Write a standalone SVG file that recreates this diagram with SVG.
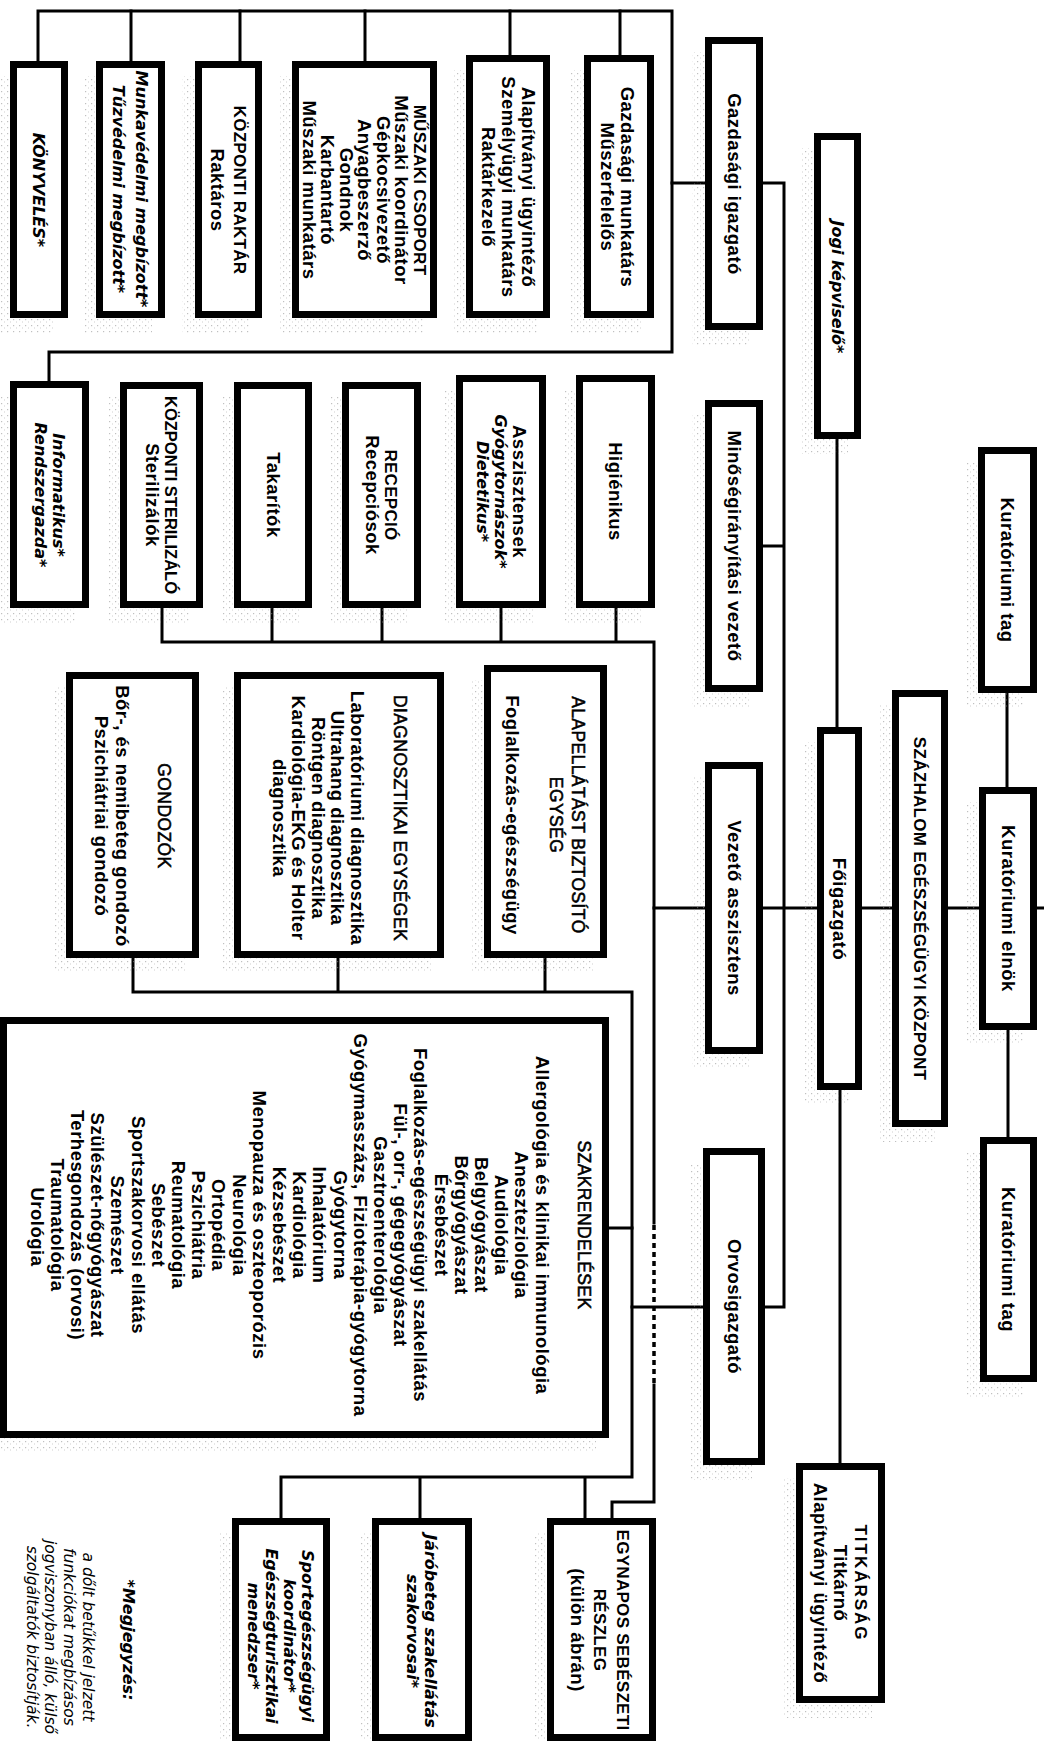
<svg xmlns="http://www.w3.org/2000/svg" width="1044" height="1741" viewBox="0 0 1044 1741">
<defs>
<pattern id="dots" width="6" height="6" patternUnits="userSpaceOnUse">
<rect x="1" y="1" width="1.2" height="1.2" fill="#8c8c8c"/>
<rect x="4" y="3.5" width="1" height="1" fill="#a8a8a8"/>
</pattern>
<style>
.sh{fill:url(#dots);opacity:.55}
.box{fill:#fff;stroke:#000;stroke-width:7}
text{fill:#000;text-anchor:middle}
.b{font-family:"Liberation Sans",Arial,sans-serif;font-weight:bold;font-size:18.5px;letter-spacing:.5px}
.c{font-family:"Liberation Sans",Arial,sans-serif;font-weight:bold;font-size:17px;letter-spacing:.3px}
.r{font-family:"Liberation Sans",Arial,sans-serif;font-weight:normal;font-size:17.5px;letter-spacing:.4px;stroke:#000;stroke-width:.55px}
.i{font-family:"DejaVu Sans",sans-serif;font-style:italic;font-weight:bold;font-size:16px}
.n{font-family:"DejaVu Sans",sans-serif;font-style:italic;font-weight:normal;font-size:15.5px}
.ln{fill:none;stroke:#000;stroke-width:3;stroke-linecap:square}
.dash{fill:none;stroke:#000;stroke-width:3.5;stroke-dasharray:5 4}
</style>
</defs>
<rect width="1044" height="1741" fill="#fff"/>

<g id="connectors">
<path class="ln" d="M38,62 V11 H672 V352 H49 V382"/>
<path class="ln" d="M131,11 V62 M240,11 V62 M365,11 V62 M510,11 V56 M620,11 V56"/>
<path class="ln" d="M672,183 H706 M763,183 H784 V1307 H765 M763,546 H784"/>
<path class="ln" d="M162,608 V642 H654 V1223 M272,608 V642 M382,608 V642 M501,608 V642 M616,608 V642"/>
<path class="dash" d="M654,1225 V1383"/>
<path class="ln" d="M654,1385 V1502 H612 V1519"/>
<path class="ln" d="M654,908 H1044"/>
<path class="ln" d="M133,958 V992 H632 V1477 H281 V1519 M338,958 V992 M545,958 V992 M420,1477 V1519 M585,1477 V1519"/>
<path class="ln" d="M609,1228 H632 M632,1307 H704"/>
<path class="ln" d="M837,439 V728 M840,1090 V1464 M1007,693 V788 M1008,1030 V1138"/>
</g>

<g id="n-konyveles">
<rect class="sh" x="-3" y="76" width="58" height="257"/>
<rect class="box" x="13.5" y="64.5" width="51" height="250"/>
<text transform="rotate(90)"><tspan class="i" x="190" y="-33.2">KÖNYVELÉS*</tspan></text>
</g>
<g id="n-munkavedelmi">
<rect class="sh" x="83" y="76" width="69" height="257"/>
<rect class="box" x="99.5" y="64.5" width="62" height="250"/>
<text transform="rotate(90)"><tspan class="i" x="189" y="-136.2">Munkavédelmi megbízott*</tspan><tspan class="i" x="189" y="-113.2">Tűzvédelmi megbízott*</tspan></text>
</g>
<g id="n-kozponti-raktar">
<rect class="sh" x="182" y="76" width="67" height="257"/>
<rect class="box" x="198.5" y="64.5" width="60" height="250"/>
<text transform="rotate(90)"><tspan class="c" x="190" y="-233.9">KÖZPONTI RAKTÁR</tspan><tspan class="b" x="190" y="-210.5">Raktáros</tspan></text>
</g>
<g id="n-muszaki">
<rect class="sh" x="279" y="76" width="145" height="257"/>
<rect class="box" x="295.5" y="64.5" width="138" height="250"/>
<text transform="rotate(90)"><tspan class="c" x="190" y="-413.9">MŰSZAKI CSOPORT</tspan><tspan class="b" x="190" y="-395">Műszaki koordinátor</tspan><tspan class="b" x="190" y="-376.5">Gépkocsivezető</tspan><tspan class="b" x="190" y="-358">Anyagbeszerző</tspan><tspan class="b" x="190" y="-339.5">Gondnok</tspan><tspan class="b" x="190" y="-321">Karbantartó</tspan><tspan class="b" x="190" y="-302.5">Műszaki munkatárs</tspan></text>
</g>
<g id="n-alapitvanyi">
<rect class="sh" x="453" y="70" width="84" height="263"/>
<rect class="box" x="469.5" y="58.5" width="77" height="256"/>
<text transform="rotate(90)"><tspan class="b" x="187" y="-521.5">Alapítványi ügyintéző</tspan><tspan class="b" x="187" y="-501.5">Személyügyi munkatárs</tspan><tspan class="b" x="187" y="-481.5">Raktárkezelő</tspan></text>
</g>
<g id="n-gazdasagi-munkatars">
<rect class="sh" x="571" y="70" width="70" height="263"/>
<rect class="box" x="587.5" y="58.5" width="63" height="256"/>
<text transform="rotate(90)"><tspan class="b" x="187" y="-620.5">Gazdasági munkatárs</tspan><tspan class="b" x="187" y="-600.5">Műszerfelelős</tspan></text>
</g>
<g id="n-gazdasagi-igazgato">
<rect class="sh" x="692" y="52" width="58" height="293"/>
<rect class="box" x="708.5" y="40.5" width="51" height="286"/>
<text transform="rotate(90)"><tspan class="b" x="184" y="-727.5">Gazdasági igazgató</tspan></text>
</g>
<g id="n-jogi">
<rect class="sh" x="801" y="148" width="47" height="306"/>
<rect class="box" x="817.5" y="136.5" width="40" height="299"/>
<text transform="rotate(90)"><tspan class="i" x="287" y="-831.7">Jogi képviselő*</tspan></text>
</g>
<g id="n-minoseg">
<rect class="sh" x="692" y="415" width="58" height="292"/>
<rect class="box" x="708.5" y="403.5" width="51" height="285"/>
<text transform="rotate(90)"><tspan class="b" x="546" y="-727.5">Minőségirányítási vezető</tspan></text>
</g>
<g id="n-kuratoriumi-tag-1">
<rect class="sh" x="965" y="462" width="59" height="246"/>
<rect class="box" x="981.5" y="450.5" width="52" height="239"/>
<text transform="rotate(90)"><tspan class="b" x="570" y="-1001">Kuratóriumi tag</tspan></text>
</g>
<g id="n-szazhalom">
<rect class="sh" x="879" y="705" width="56" height="437"/>
<rect class="box" x="895.5" y="693.5" width="49" height="430"/>
<text transform="rotate(90)"><tspan class="c" x="908.5" y="-914">SZÁZHALOM EGÉSZSÉGÜGYI KÖZPONT</tspan></text>
</g>
<g id="n-kuratoriumi-elnok">
<rect class="sh" x="966" y="802" width="58" height="243"/>
<rect class="box" x="982.5" y="790.5" width="51" height="236"/>
<text transform="rotate(90)"><tspan class="b" x="908.5" y="-1001.5">Kuratóriumi elnök</tspan></text>
</g>
<g id="n-kuratoriumi-tag-2">
<rect class="sh" x="967" y="1152" width="57" height="245"/>
<rect class="box" x="983.5" y="1140.5" width="50" height="238"/>
<text transform="rotate(90)"><tspan class="b" x="1259.5" y="-1002">Kuratóriumi tag</tspan></text>
</g>
<g id="n-foigazgato">
<rect class="sh" x="804" y="742" width="45" height="363"/>
<rect class="box" x="820.5" y="730.5" width="38" height="356"/>
<text transform="rotate(90)"><tspan class="b" x="909" y="-833">Főigazgató</tspan></text>
</g>
<g id="n-vezeto-asszisztens">
<rect class="sh" x="692" y="777" width="58" height="292"/>
<rect class="box" x="708.5" y="765.5" width="51" height="285"/>
<text transform="rotate(90)"><tspan class="b" x="908" y="-727.5">Vezető asszisztens</tspan></text>
</g>
<g id="n-orvosigazgato">
<rect class="sh" x="690" y="1163" width="62" height="317"/>
<rect class="box" x="706.5" y="1151.5" width="55" height="310"/>
<text transform="rotate(90)"><tspan class="b" x="1306.5" y="-727.5">Orvosigazgató</tspan></text>
</g>
<g id="n-titkarsag">
<rect class="sh" x="783" y="1478" width="89" height="240"/>
<rect class="box" x="799.5" y="1466.5" width="82" height="233"/>
<text transform="rotate(90)"><tspan class="c" x="1583" y="-854.9" style="letter-spacing:2px">TITKÁRSÁG</tspan><tspan class="b" x="1583" y="-834">Titkárnő</tspan><tspan class="b" x="1583" y="-813.5">Alapítványi ügyintéző</tspan></text>
</g>
<g id="n-informatikus">
<rect class="sh" x="-3" y="396" width="79" height="227"/>
<rect class="box" x="13.5" y="384.5" width="72" height="220"/>
<text transform="rotate(90)"><tspan class="i" x="495" y="-52.7">Informatikus*</tspan><tspan class="i" x="495" y="-34.7">Rendszergazda*</tspan></text>
</g>
<g id="n-sterilizalo">
<rect class="sh" x="107" y="397" width="83" height="226"/>
<rect class="box" x="123.5" y="385.5" width="76" height="219"/>
<text transform="rotate(90)"><tspan class="c" x="495" y="-164.9" style="font-size:16.5px;letter-spacing:0">KÖZPONTI STERILIZÁLÓ</tspan><tspan class="b" x="495" y="-145.5">Sterilizálók</tspan></text>
</g>
<g id="n-takaritok">
<rect class="sh" x="221" y="397" width="78" height="226"/>
<rect class="box" x="237.5" y="385.5" width="71" height="219"/>
<text transform="rotate(90)"><tspan class="b" x="495" y="-266.5">Takarítók</tspan></text>
</g>
<g id="n-recepcio">
<rect class="sh" x="329" y="397" width="79" height="226"/>
<rect class="box" x="345.5" y="385.5" width="72" height="219"/>
<text transform="rotate(90)"><tspan class="c" x="495" y="-384.9">RECEPCIÓ</tspan><tspan class="b" x="495" y="-365.5">Recepciósok</tspan></text>
</g>
<g id="n-asszisztensek">
<rect class="sh" x="443" y="390" width="90" height="233"/>
<rect class="box" x="459.5" y="378.5" width="83" height="226"/>
<text transform="rotate(90)"><tspan class="b" x="491.5" y="-512.5">Asszisztensek</tspan><tspan class="i" x="491.5" y="-495.2">Gyógytornászok*</tspan><tspan class="i" x="491.5" y="-477.2">Dietetikus*</tspan></text>
</g>
<g id="n-higienikus">
<rect class="sh" x="563" y="390" width="79" height="233"/>
<rect class="box" x="579.5" y="378.5" width="72" height="226"/>
<text transform="rotate(90)"><tspan class="b" x="491.5" y="-609">Higiénikus</tspan></text>
</g>
<g id="n-gondozok">
<rect class="sh" x="53" y="687" width="133" height="286"/>
<rect class="box" x="69.5" y="675.5" width="126" height="279"/>
<text transform="rotate(90)"><tspan class="r" x="816" y="-157.7">GONDOZÓK</tspan><tspan class="b" x="816" y="-115.5">Bőr-, és nemibeteg gondozó</tspan><tspan class="b" x="816" y="-94.5">Pszichiátriai gondozó</tspan></text>
</g>
<g id="n-diagnosztikai">
<rect class="sh" x="221" y="687" width="210" height="286"/>
<rect class="box" x="237.5" y="675.5" width="203" height="279"/>
<text transform="rotate(90)"><tspan class="r" x="818" y="-393.7">DIAGNOSZTIKAI EGYSÉGEK</tspan><tspan class="b" x="818" y="-350.5">Laboratóriumi diagnosztika</tspan><tspan class="b" x="818" y="-331">Ultrahang diagnosztika</tspan><tspan class="b" x="818" y="-311.5">Röntgen diagnosztika</tspan><tspan class="b" x="818" y="-292">Kardiológia-EKG és Holter</tspan><tspan class="b" x="818" y="-272.5">diagnosztika</tspan></text>
</g>
<g id="n-alapellatas">
<rect class="sh" x="471" y="680" width="123" height="293"/>
<rect class="box" x="487.5" y="668.5" width="116" height="286"/>
<text transform="rotate(90)"><tspan class="r" x="815" y="-571.7">ALAPELLÁTÁST BIZTOSÍTÓ</tspan><tspan class="r" x="815" y="-549.7">EGYSÉG</tspan><tspan class="b" x="815" y="-505.5">Foglalkozás-egészségügy</tspan></text>
</g>
<g id="n-szakrendelesek">
<rect class="sh" x="-13" y="1032" width="609" height="421"/>
<rect class="box" x="3.5" y="1020.5" width="602" height="414"/>
<text transform="rotate(90)">
<tspan class="r" x="1227" y="-577.7">SZAKRENDELÉSEK</tspan>
<tspan class="b" x="1227" y="-535.5">Allergológia és klinikai immunológia</tspan>
<tspan class="b" x="1227" y="-515.3">Aneszteziológia</tspan>
<tspan class="b" x="1227" y="-495.1">Audiológia</tspan>
<tspan class="b" x="1227" y="-474.9">Belgyógyászat</tspan>
<tspan class="b" x="1227" y="-454.7">Bőrgyógyászat</tspan>
<tspan class="b" x="1227" y="-434.5">Érsebészet</tspan>
<tspan class="b" x="1227" y="-414.3">Foglalkozás-egészségügyi szakellátás</tspan>
<tspan class="b" x="1227" y="-394.1">Fül-, orr-, gégegyógyászat</tspan>
<tspan class="b" x="1227" y="-373.9">Gasztroenterológia</tspan>
<tspan class="b" x="1227" y="-353.7">Gyógymasszázs, Fizioterápia-gyógytorna</tspan>
<tspan class="b" x="1227" y="-333.5">Gyógytorna</tspan>
<tspan class="b" x="1227" y="-313.3">Inhalatórium</tspan>
<tspan class="b" x="1227" y="-293.1">Kardiológia</tspan>
<tspan class="b" x="1227" y="-272.9">Kézsebészet</tspan>
<tspan class="b" x="1227" y="-252.7">Menopauza és oszteoporózis</tspan>
<tspan class="b" x="1227" y="-232.5">Neurológia</tspan>
<tspan class="b" x="1227" y="-212.3">Ortopédia</tspan>
<tspan class="b" x="1227" y="-192.1">Pszichiátria</tspan>
<tspan class="b" x="1227" y="-171.9">Reumatológia</tspan>
<tspan class="b" x="1227" y="-151.7">Sebészet</tspan>
<tspan class="b" x="1227" y="-131.5">Sportszakorvosi ellátás</tspan>
<tspan class="b" x="1227" y="-111.3">Szemészet</tspan>
<tspan class="b" x="1227" y="-91.1">Szülészet-nőgyógyászat</tspan>
<tspan class="b" x="1227" y="-70.9">Terhesgondozás (orvosi)</tspan>
<tspan class="b" x="1227" y="-50.7">Traumatológia</tspan>
<tspan class="b" x="1227" y="-30.5">Urológia</tspan>
</text>
</g>
<g id="n-sport">
<rect class="sh" x="219" y="1533" width="98" height="223"/>
<rect class="box" x="235.5" y="1521.5" width="91" height="216"/>
<text transform="rotate(90)"><tspan class="i" x="1636" y="-302.2">Sportegészségügyi</tspan><tspan class="i" x="1636" y="-284.2">koordinátor*</tspan><tspan class="i" x="1636" y="-266.2">Egészségturisztikai</tspan><tspan class="i" x="1636" y="-248.2">menedzser*</tspan></text>
</g>
<g id="n-jarobeteg">
<rect class="sh" x="359" y="1533" width="100" height="223"/>
<rect class="box" x="375.5" y="1521.5" width="93" height="216"/>
<text transform="rotate(90)"><tspan class="i" x="1631" y="-425.2">Járóbeteg szakellátás</tspan><tspan class="i" x="1631" y="-407.2">szakorvosai*</tspan></text>
</g>
<g id="n-egynapos">
<rect class="sh" x="534" y="1533" width="109" height="223"/>
<rect class="box" x="550.5" y="1521.5" width="102" height="216"/>
<text transform="rotate(90)"><tspan class="c" x="1630" y="-616.9">EGYNAPOS SEBÉSZETI</tspan><tspan class="c" x="1630" y="-593.9">RÉSZLEG</tspan><tspan class="b" x="1630" y="-570.5">(külön ábrán)</tspan></text>
</g>
<g id="note">
<text transform="rotate(90)"><tspan class="i" x="1640" y="-123.2">*Megjegyzés:</tspan><tspan class="n" x="1637" y="-83.4">a dőlt betűkkel jelzett</tspan><tspan class="n" x="1637" y="-64.4">funkciókat megbízásos</tspan><tspan class="n" x="1637" y="-45.4">jogviszonyban álló, külső</tspan><tspan class="n" x="1637" y="-27.4">szolgáltatók biztosítják.</tspan></text>
</g>
</svg>
